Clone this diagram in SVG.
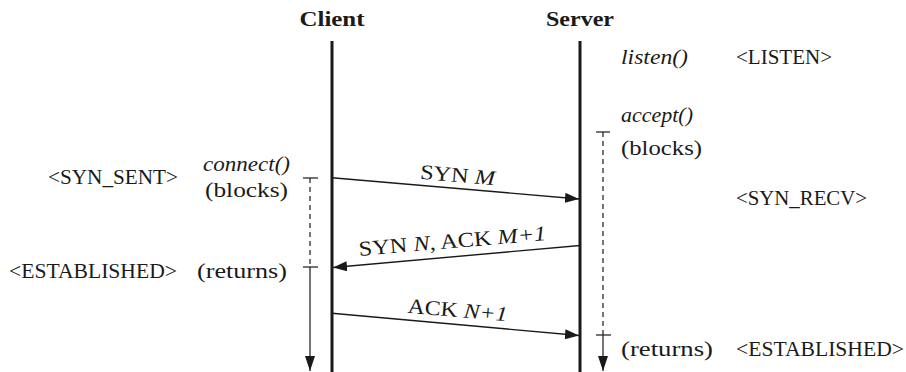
<svg xmlns="http://www.w3.org/2000/svg" width="906" height="372" viewBox="0 0 906 372" font-family="'Liberation Serif', 'Times New Roman', Times, serif">
<style>
text{fill:#1a1a1a}
.title{font-size:22px;font-weight:bold;text-anchor:middle}
.call{font-size:22px;font-style:italic}
.note{font-size:22px}
.state{font-size:20px}
.lbl{font-size:21px;text-anchor:middle}
.it{font-style:italic}
.life{stroke:#1a1a1a;stroke-width:3;fill:none}
.msg{stroke:#1a1a1a;stroke-width:1.4;fill:none}
.dash{stroke:#1a1a1a;stroke-width:1.2;stroke-dasharray:5 4;fill:none}
.solid{stroke:#1a1a1a;stroke-width:1.2;fill:none}
.head{fill:#1a1a1a}
</style>
<defs>
<marker id="ah" viewBox="0 0 14 10" refX="14" refY="5" markerWidth="14" markerHeight="10" markerUnits="userSpaceOnUse" orient="auto">
<path d="M0,0 L14,5 L0,10 z" class="head"/>
</marker>
<marker id="ahd" viewBox="0 0 10 15" refX="5" refY="15" markerWidth="10" markerHeight="15" markerUnits="userSpaceOnUse" orient="0">
<path d="M0,0 L10,0 L5,15 z" class="head"/>
</marker>
</defs>

<g id="client">
<text class="title" x="332" y="26" textLength="65" lengthAdjust="spacingAndGlyphs">Client</text>
<line class="life" x1="332" y1="41" x2="332" y2="372"/>
<text class="call" x="203" y="171" textLength="87" lengthAdjust="spacingAndGlyphs">connect()</text>
<text class="note" x="205" y="197" textLength="83" lengthAdjust="spacingAndGlyphs">(blocks)</text>
<text class="state" x="48" y="184" textLength="130" lengthAdjust="spacingAndGlyphs">&lt;SYN_SENT&gt;</text>
<text class="state" x="9" y="278" textLength="168" lengthAdjust="spacingAndGlyphs">&lt;ESTABLISHED&gt;</text>
<text class="note" x="197" y="278" textLength="90" lengthAdjust="spacingAndGlyphs">(returns)</text>
<line class="solid" x1="303" y1="178" x2="318" y2="178"/>
<line class="dash" x1="310" y1="178" x2="310" y2="267"/>
<line class="solid" x1="303" y1="267" x2="318" y2="267"/>
<line class="solid" x1="310" y1="267" x2="310" y2="371" marker-end="url(#ahd)"/>
</g>

<g id="server">
<text class="title" x="580" y="26" textLength="68" lengthAdjust="spacingAndGlyphs">Server</text>
<line class="life" x1="580" y1="41" x2="580" y2="372"/>
<text class="call" x="621" y="64" textLength="67" lengthAdjust="spacingAndGlyphs">listen()</text>
<text class="state" x="736" y="64" textLength="96" lengthAdjust="spacingAndGlyphs">&lt;LISTEN&gt;</text>
<text class="call" x="621" y="122" textLength="72" lengthAdjust="spacingAndGlyphs">accept()</text>
<text class="note" x="621" y="155" textLength="81" lengthAdjust="spacingAndGlyphs">(blocks)</text>
<text class="state" x="736" y="205" textLength="131" lengthAdjust="spacingAndGlyphs">&lt;SYN_RECV&gt;</text>
<text class="note" x="621" y="356" textLength="92" lengthAdjust="spacingAndGlyphs">(returns)</text>
<text class="state" x="736" y="356" textLength="168" lengthAdjust="spacingAndGlyphs">&lt;ESTABLISHED&gt;</text>
<line class="solid" x1="596" y1="132" x2="610" y2="132"/>
<line class="dash" x1="603" y1="132" x2="603" y2="335"/>
<line class="solid" x1="596" y1="335" x2="611" y2="335"/>
<line class="solid" x1="603" y1="335" x2="603" y2="371" marker-end="url(#ahd)"/>
</g>

<g id="connectors">
<line class="msg" x1="332" y1="177.7" x2="579" y2="199" marker-end="url(#ah)"/>
<text class="lbl" transform="translate(457,182) rotate(4.9)" textLength="75" lengthAdjust="spacingAndGlyphs">SYN <tspan class="it">M</tspan></text>
<line class="msg" x1="580" y1="245.5" x2="333" y2="267.5" marker-end="url(#ah)"/>
<text class="lbl" transform="translate(453,248) rotate(-4.9)" textLength="188" lengthAdjust="spacingAndGlyphs">SYN <tspan class="it">N</tspan>, ACK <tspan class="it">M+1</tspan></text>
<line class="msg" x1="332" y1="313.3" x2="579" y2="335.5" marker-end="url(#ah)"/>
<text class="lbl" transform="translate(457,317) rotate(5)" textLength="100" lengthAdjust="spacingAndGlyphs">ACK <tspan class="it">N+1</tspan></text>
</g>
</svg>
